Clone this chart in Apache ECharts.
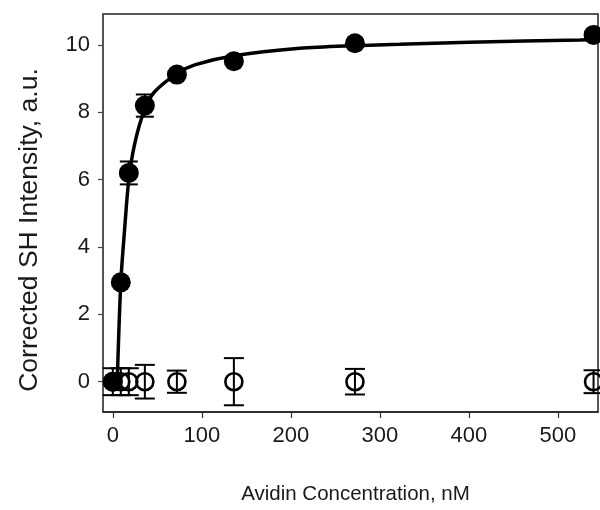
<!DOCTYPE html>
<html>
<head>
<meta charset="utf-8">
<script src="https://cdn.jsdelivr.net/npm/echarts@6/dist/echarts.min.js"></script>
<style>html,body{margin:0;padding:0;background:#fff}#c{width:600px;height:510px}</style>
</head>
<body>
<div id="c"></div>
<script>
// Avidin concentrations (nM)
const conc = [0, 9, 18, 36, 72, 136, 272, 540];
// Filled circles: corrected SH intensity
const filledY = [0, 2.95, 6.2, 8.2, 9.12, 9.52, 10.05, 10.3];
const filledErr = [0.08, 0.1, 0.34, 0.33, 0.1, 0.08, 0.1, 0.08];
// Open circles: control
const openY = [0, 0, 0, 0, 0, 0, 0, 0];
const openErr = [0.4, 0.4, 0.4, 0.5, 0.33, 0.7, 0.38, 0.34];
// Fit curve
const fitX = [5, 9, 13.5, 18, 24.7, 36, 47, 72, 92, 136, 210, 272, 322, 400, 525, 545];
const fitY = [0, 2.95, 4.6, 6.0, 7.08, 8.1, 8.61, 9.15, 9.41, 9.68, 9.9, 9.98, 10.02, 10.08, 10.15, 10.17];
// Tick labels
const xTicks = [0, 100, 200, 300, 400, 500];
const yTicks = [0, 2, 4, 6, 8, 10];

const FONT = 'Liberation Sans';
const TXT = '#1a1a1a';

function errBars(ys, errs) {
  return conc.map((x, i) => [x, ys[i] - errs[i], ys[i] + errs[i]]);
}
function errRender(halfW) {
  return function (params, api) {
    const x = api.value(0);
    const lo = api.coord([x, api.value(1)]);
    const hi = api.coord([x, api.value(2)]);
    const st = { stroke: '#000', lineWidth: 2 };
    return {
      type: 'group',
      children: [
        { type: 'line', shape: { x1: lo[0], y1: lo[1], x2: hi[0], y2: hi[1] }, style: st },
        { type: 'line', shape: { x1: lo[0] - halfW, y1: lo[1], x2: lo[0] + halfW, y2: lo[1] }, style: st },
        { type: 'line', shape: { x1: hi[0] - halfW, y1: hi[1], x2: hi[0] + halfW, y2: hi[1] }, style: st }
      ]
    };
  };
}

const chart = echarts.init(document.getElementById('c'), null, { renderer: 'canvas' });
chart.setOption({
  animation: false,
  backgroundColor: '#fff',
  grid: { left: 103, top: 14, right: 2, bottom: 98, show: true, borderColor: '#222', borderWidth: 1.5 },
  xAxis: {
    type: 'value', min: -11, max: 545,
    name: 'Avidin Concentration, nM', nameLocation: 'middle', nameGap: 72,
    nameTextStyle: { fontFamily: FONT, fontSize: 20.5, color: TXT, padding: [0, 0, 0, 10] },
    axisLine: { show: true, onZero: false, lineStyle: { color: '#222', width: 1.5 } },
    axisTick: { show: true, inside: false, length: 6, customValues: xTicks, lineStyle: { color: '#333', width: 1.2 } },
    axisLabel: { customValues: xTicks, fontFamily: FONT, fontSize: 22, color: TXT, margin: 13 },
    splitLine: { show: false }
  },
  yAxis: {
    type: 'value', min: -0.9, max: 10.92,
    name: 'Corrected SH Intensity, a.u.', nameLocation: 'middle', nameGap: 60, nameRotate: 90,
    nameTextStyle: { fontFamily: FONT, fontSize: 26.5, color: TXT, padding: [0, 34, 0, 0] },
    axisLine: { show: true, onZero: false, lineStyle: { color: '#555', width: 1.5 } },
    axisTick: { show: true, inside: false, length: 5, customValues: yTicks, lineStyle: { color: '#444', width: 1.2 } },
    axisLabel: { customValues: yTicks, fontFamily: FONT, fontSize: 22, color: TXT, margin: 13 },
    splitLine: { show: false }
  },
  series: [
    {
      type: 'scatter', name: 'control', z: 2,
      data: conc.map((x, i) => [x, openY[i]]),
      symbol: 'circle', symbolSize: 17,
      itemStyle: { color: 'rgba(0,0,0,0)', borderColor: '#000', borderWidth: 2.6, opacity: 1 }
    },
    {
      type: 'custom', z: 3,
      data: errBars(openY, openErr),
      renderItem: errRender(10)
    },
    {
      type: 'line', z: 4,
      data: fitX.map((x, i) => [x, fitY[i]]),
      smooth: 0.3, showSymbol: false,
      lineStyle: { color: '#000', width: 3.5 }
    },
    {
      type: 'custom', z: 5,
      data: errBars(filledY, filledErr),
      renderItem: errRender(9)
    },
    {
      type: 'scatter', name: 'avidin', z: 6,
      data: conc.map((x, i) => [x, filledY[i]]),
      symbol: 'circle', symbolSize: 20,
      itemStyle: { color: '#000', opacity: 1 }
    }
  ]
});
</script>
</body>
</html>
